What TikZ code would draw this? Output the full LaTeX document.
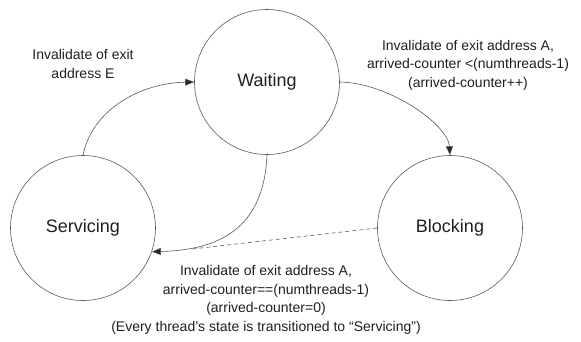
\documentclass[tikz,border=0pt]{standalone}
\usepackage{fontspec}
\setmainfont{Liberation Sans}
\usetikzlibrary{arrows.meta}
\begin{document}
\begin{tikzpicture}[x=1pt,y=-1pt,
  state/.style={circle,draw=black!65,line width=0.6pt,minimum size=145pt,inner sep=0pt,
    font=\fontsize{18}{20}\selectfont,text=black!88},
  lbl/.style={align=center,font=\fontsize{14}{18.5}\selectfont,text=black!88},
  conn/.style={draw=black!65,line width=0.6pt},
  tip/.style={-{Triangle[length=9pt,width=7pt,fill=black!85]}}]
\useasboundingbox (0,0) rectangle (581,341);
\node[state] (W) at (267,82) {Waiting};
\node[state] (S) at (83,228) {Servicing};
\node[state] (B) at (450,228) {Blocking};
\coordinate (jn) at (192,249);
\draw[conn,tip] (S.north) .. controls (92,110) and (140,83) .. (W.west);
\draw[conn,tip] (W.east) .. controls (390,83) and (448,125) .. (B.north);
\draw[conn,tip] (W.south) .. controls (264,228) and (220,250) .. (S.-19);
\draw[conn,dashed,dash pattern=on 4pt off 3pt] (B.west) -- (jn);
\node[lbl] (l1) at (83,64) {Invalidate of exit\\address E};
\node[lbl] (l2) at (468,65) {Invalidate of exit address A,\\arrived-counter <(numthreads-1)\\(arrived-counter++)};
\node[lbl] (l3) at (266,300) {Invalidate of exit address A,\\arrived-counter==(numthreads-1)\\(arrived-counter=0)\\(Every thread’s state is transitioned to “Servicing”)};
\end{tikzpicture}
\end{document}
